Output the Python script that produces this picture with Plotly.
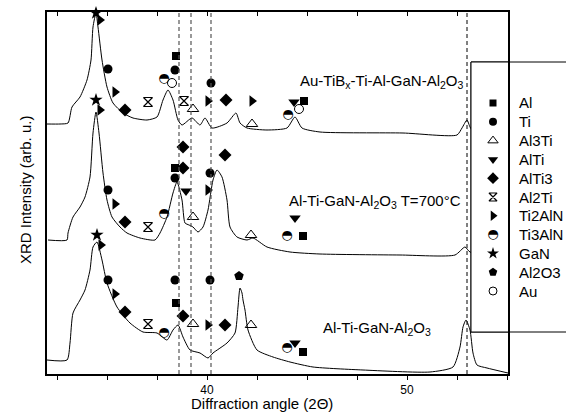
import plotly.graph_objects as go

FONT = "Liberation Sans, Arial, sans-serif"

# ---------------- curves (x: 2-theta in degrees, y: offset intensity, arb. units) ----------------
top_x = [32.0, 32.65, 33.05, 33.25, 33.65, 34.0, 34.2, 34.3, 34.45, 34.55, 34.75, 35.0, 35.3, 35.8,
         36.3, 37.0, 37.5, 37.8, 38.05, 38.3, 38.55, 38.75, 39.25, 39.65, 39.9, 40.25, 41.0, 41.45,
         41.65, 42.0, 43.0, 44.0, 44.4, 44.75, 45.65, 49.8, 52.5, 52.75, 53.0, 53.15, 53.4, 55.05]
top_y = [250, 250, 251, 267, 277, 294, 314, 347, 361, 347, 314, 287, 271, 261,
         256, 254, 257, 274, 284, 274, 254, 249, 256, 249, 256, 246, 251, 261,
         251, 246, 244, 246, 257, 246, 242, 241, 239, 246, 254, 247, 240, 239]

mid_x = [32.05, 33.0, 33.05, 33.3, 33.65, 33.9, 34.15, 34.3, 34.45, 34.6, 34.8, 35.0, 35.25, 35.65,
         36.0, 36.65, 37.4, 37.65, 38.0, 38.3, 38.5, 38.75, 38.9, 39.1, 39.3, 39.55, 39.8, 40.05,
         40.3, 40.5, 40.75, 41.0, 41.15, 41.5, 42.0, 42.3, 43.0, 44.15, 45.65, 49.65, 52.4, 52.9,
         53.15, 55.05]
mid_y = [134, 134, 141, 157, 167, 177, 197, 241, 262, 241, 201, 174, 157, 147,
         141, 136, 134, 141, 157, 181, 192, 174, 151, 149, 147, 142, 147, 164,
         194, 204, 197, 174, 147, 137, 134, 136, 127, 122, 120, 119, 119, 127,
         122, 118]

bot_x = [32.0, 33.0, 33.15, 33.3, 33.65, 33.9, 34.15, 34.3, 34.5, 34.75, 35.0, 35.5, 36.15, 36.8,
         37.5, 38.0, 38.3, 38.55, 38.8, 39.15, 39.65, 40.05, 40.3, 41.0, 41.4, 41.55, 41.65, 41.75,
         41.8, 41.9, 42.05, 42.5, 43.3, 44.15, 45.3, 47.8, 51.15, 52.3, 52.65, 52.8, 52.95, 53.15,
         53.3, 53.5, 54.0, 55.05]
bot_y = [14, 14, 31, 61, 74, 84, 104, 127, 132, 114, 91, 67, 51, 42,
         41, 34, 44, 49, 37, 24, 21, 16, 21, 31, 41, 67, 86, 81,
         74, 64, 44, 24, 17, 12, 7, 4, 2, 7, 27, 47, 54, 44,
         21, 9, 6, 1]

# ---------------- phase markers ----------------
al_x = [38.45, 44.85, 38.4, 44.8, 38.45, 44.8]
al_y = [318, 273, 206, 138, 71, 22]
ti_x = [35.05, 38.4, 40.2, 35.05, 38.4, 40.15, 35.05, 38.4, 40.15]
ti_y = [305, 304, 291, 184, 196, 201, 94, 94, 94]
al3ti_x = [39.3, 42.25, 39.3, 42.2, 39.3, 42.2]
al3ti_y = [265, 250, 157, 139, 50, 49]
alti_x = [44.35, 38.95, 44.4, 44.4]
alti_y = [272, 183, 156, 31]
alti3_x = [35.9, 40.95, 35.9, 38.8, 38.8, 40.9, 35.9, 38.8, 40.9]
alti3_y = [264, 274, 152, 206, 227, 219, 62, 58, 49]
al2ti_x = [37.05, 38.85, 37.05, 37.05]
al2ti_y = [272, 273, 147, 50]
ti2aln_x = [34.65, 35.4, 40.05, 42.25, 34.65, 35.4, 40.05, 34.7, 35.4, 40.05]
ti2aln_y = [354, 282, 273, 273, 264, 170, 184, 129, 80, 49]
ti3aln_x = [37.85, 44.05, 37.85, 44.0, 37.85, 44.0]
ti3aln_y = [295, 259, 160, 138, 41, 26]
gan_x = [34.45, 34.45, 34.5]
gan_y = [361, 274, 139]
al2o3_x = [41.6]
al2o3_y = [98]
au_x = [38.25, 44.6]
au_y = [291, 265]

phase_names = ["Al", "Ti", "Al3Ti", "AlTi", "AlTi3", "Al2Ti", "Ti2AlN", "Ti3AlN", "GaN", "Al2O3", "Au"]

# reference lines (2-theta)
gray_lines = [38.6, 39.2, 40.2]
black_lines = [53.0]

# sample labels
sample_labels = ["Au-TiB<sub>x</sub>-Ti-Al-GaN-Al<sub>2</sub>O<sub>3</sub>",
                 "Al-Ti-GaN-Al<sub>2</sub>O<sub>3</sub> T=700°C",
                 "Al-Ti-GaN-Al<sub>2</sub>O<sub>3</sub>"]
sample_label_x = [52.95, 52.8, 51.3]
sample_label_y = [293, 173, 46]

major_ticks = [40, 50]
minor_ticks = [32.5, 35, 37.5, 42.5, 45, 47.5, 52.5, 55]

X_RANGE = [32, 55.05]
Y_RANGE = [0, 362]

# ---------------- geometry (pixels) ----------------
W, H = 566, 413
PLOT_TOP, PLOT_BOTTOM, PLOT_LEFT, PLOT_RIGHT = 12, 374, 47, 508
PH = PLOT_BOTTOM - PLOT_TOP
PW = PLOT_RIGHT - PLOT_LEFT


def fx(px):
    return (px - PLOT_LEFT) / PW


def fy(py):
    return (PLOT_BOTTOM - py) / PH


BOX_L, BOX_T, BOX_B = 471, 62, 332
LEG_SYM_X, LEG_TXT_X, LEG_ROW0, LEG_STEP = 493, 517, 103, 18.8

fig = go.Figure()

# data curves
for xs, ys in [(top_x, top_y), (mid_x, mid_y), (bot_x, bot_y)]:
    fig.add_trace(go.Scatter(x=xs, y=ys, mode="lines",
                             line=dict(color="black", width=1, shape="spline", smoothing=0.6),
                             showlegend=False, hoverinfo="skip"))

# phase markers
styles = {
    "Al": dict(symbol="square", size=8, color="black"),
    "Ti": dict(symbol="circle", size=9, color="black"),
    "Al3Ti": dict(symbol="triangle-up-open", size=10, color="black", line=dict(width=1, color="black")),
    "AlTi": dict(symbol="triangle-down", size=10, color="black"),
    "AlTi3": dict(symbol="diamond", size=10, color="black"),
    "Al2Ti": dict(symbol="hourglass-open", size=9, color="black", line=dict(width=1.2, color="black")),
    "Ti2AlN": dict(symbol="triangle-right", size=10, color="black"),
    "GaN": dict(symbol="star", size=10, color="black"),
    "Al2O3": dict(symbol="pentagon", size=10, color="black"),
    "Au": dict(symbol="circle-open", size=9, color="black", line=dict(width=1, color="black")),
}
HALF_CIRCLE = "◓"  # Ti3AlN: half-filled circle
data = {
    "Al": (al_x, al_y), "Ti": (ti_x, ti_y), "Al3Ti": (al3ti_x, al3ti_y), "AlTi": (alti_x, alti_y),
    "AlTi3": (alti3_x, alti3_y), "Al2Ti": (al2ti_x, al2ti_y), "Ti2AlN": (ti2aln_x, ti2aln_y),
    "Ti3AlN": (ti3aln_x, ti3aln_y), "GaN": (gan_x, gan_y), "Al2O3": (al2o3_x, al2o3_y), "Au": (au_x, au_y),
}
glyph_font = dict(family="DejaVu Sans", size=13, color="black")
for name in phase_names:
    xs, ys = data[name]
    if name == "Ti3AlN":
        fig.add_trace(go.Scatter(x=xs, y=ys, mode="text", name=name, text=[HALF_CIRCLE] * len(xs),
                                 textposition="middle center", textfont=glyph_font,
                                 cliponaxis=False, showlegend=False))
    else:
        fig.add_trace(go.Scatter(x=xs, y=ys, mode="markers", name=name, marker=styles[name],
                                 cliponaxis=False, showlegend=False))

# dashed reference lines (drawn on the mirrored top axis)
gx, gy = [], []
for v in gray_lines:
    gx += [v, v, None]
    gy += [Y_RANGE[0], Y_RANGE[1], None]
fig.add_trace(go.Scatter(x=gx, y=gy, mode="lines", xaxis="x2", yaxis="y",
                         line=dict(color="#555555", width=1.2, dash="4px,3px"),
                         showlegend=False, hoverinfo="skip"))
bx, by = [], []
for v in black_lines:
    bx += [v, v, None]
    by += [Y_RANGE[0], Y_RANGE[1], None]
fig.add_trace(go.Scatter(x=bx, y=by, mode="lines", xaxis="x2", yaxis="y",
                         line=dict(color="black", width=1, dash="4px,3px"),
                         showlegend=False, hoverinfo="skip"))

# legend box (inside the plot area; the part outside is a paper shape)
fig.add_trace(go.Scatter(x=[fx(BOX_L), 1.3, 1.3, fx(BOX_L), fx(BOX_L)],
                         y=[fy(BOX_B), fy(BOX_B), fy(BOX_T), fy(BOX_T), fy(BOX_B)],
                         xaxis="x3", yaxis="y3", mode="lines", fill="toself", fillcolor="white",
                         line=dict(color="black", width=1), showlegend=False, hoverinfo="skip"))

# legend symbols
for i, name in enumerate(phase_names):
    ly = fy(LEG_ROW0 + LEG_STEP * i)
    if name == "Ti3AlN":
        fig.add_trace(go.Scatter(x=[fx(LEG_SYM_X)], y=[ly], xaxis="x3", yaxis="y3", mode="text",
                                 text=[HALF_CIRCLE], textposition="middle center", textfont=glyph_font,
                                 cliponaxis=False, showlegend=False, hoverinfo="skip"))
    else:
        st = dict(styles[name])
        st["size"] = st["size"] - 1
        fig.add_trace(go.Scatter(x=[fx(LEG_SYM_X)], y=[ly], xaxis="x3", yaxis="y3", mode="markers",
                                 marker=st, cliponaxis=False, showlegend=False, hoverinfo="skip"))

annotations = []
for txt, ax, ay in zip(sample_labels, sample_label_x, sample_label_y):
    annotations.append(dict(text=txt, x=ax, y=ay, xref="x", yref="y", xanchor="right", yanchor="middle",
                            showarrow=False, font=dict(family=FONT, size=15, color="black")))
for i, name in enumerate(phase_names):
    annotations.append(dict(text=name, x=fx(LEG_TXT_X), y=fy(LEG_ROW0 + LEG_STEP * i),
                            xref="paper", yref="paper", xanchor="left", yanchor="middle",
                            showarrow=False, font=dict(family=FONT, size=15, color="black")))
annotations.append(dict(text="Diffraction angle (2Θ)", x=fx(262), y=fy(403),
                        xref="paper", yref="paper", xanchor="center", yanchor="middle", showarrow=False,
                        font=dict(family=FONT, size=15, color="black")))
annotations.append(dict(text="XRD Intensity (arb. u.)", x=fx(25), y=fy(190), textangle=-90,
                        xref="paper", yref="paper", xanchor="center", yanchor="middle", showarrow=False,
                        font=dict(family=FONT, size=15, color="black")))

fig.update_layout(
    width=W, height=H,
    margin=dict(l=PLOT_LEFT, r=W - PLOT_RIGHT, t=PLOT_TOP, b=H - PLOT_BOTTOM),
    paper_bgcolor="white", plot_bgcolor="white",
    font=dict(family=FONT, color="black"),
    showlegend=False,
    xaxis=dict(range=X_RANGE, tickvals=major_ticks, ticktext=[str(v) for v in major_ticks],
               ticks="outside", ticklen=4, tickwidth=1, tickcolor="black",
               minor=dict(tickvals=minor_ticks, ticks="outside", ticklen=4, tickwidth=1, tickcolor="black",
                          showgrid=False),
               showline=True, linecolor="black", linewidth=1.5, layer="below traces",
               showgrid=False, zeroline=False, tickfont=dict(family=FONT, size=12)),
    xaxis2=dict(overlaying="x", side="top", matches="x", tickvals=major_ticks, ticks="inside", ticklen=4,
                tickwidth=1, tickcolor="black",
                minor=dict(tickvals=minor_ticks, ticks="inside", ticklen=4, tickwidth=1, tickcolor="black",
                           showgrid=False),
                showticklabels=False, showline=True, linecolor="black", layer="below traces",
                linewidth=1.5, showgrid=False, zeroline=False),
    yaxis=dict(range=Y_RANGE, showline=True, mirror=True, linecolor="black", linewidth=1.5,
               ticks="", showticklabels=False, showgrid=False, zeroline=False, layer="below traces"),
    xaxis3=dict(overlaying="x", range=[0, 1], visible=False, fixedrange=True),
    yaxis3=dict(overlaying="y", range=[0, 1], visible=False, fixedrange=True),
    shapes=[dict(type="rect", xref="paper", yref="paper",
                 x0=fx(BOX_L), x1=1.3, y0=fy(BOX_B), y1=fy(BOX_T),
                 fillcolor="white", line=dict(color="black", width=1), layer="below")],
    annotations=annotations,
)

fig.write_html("out.html")
